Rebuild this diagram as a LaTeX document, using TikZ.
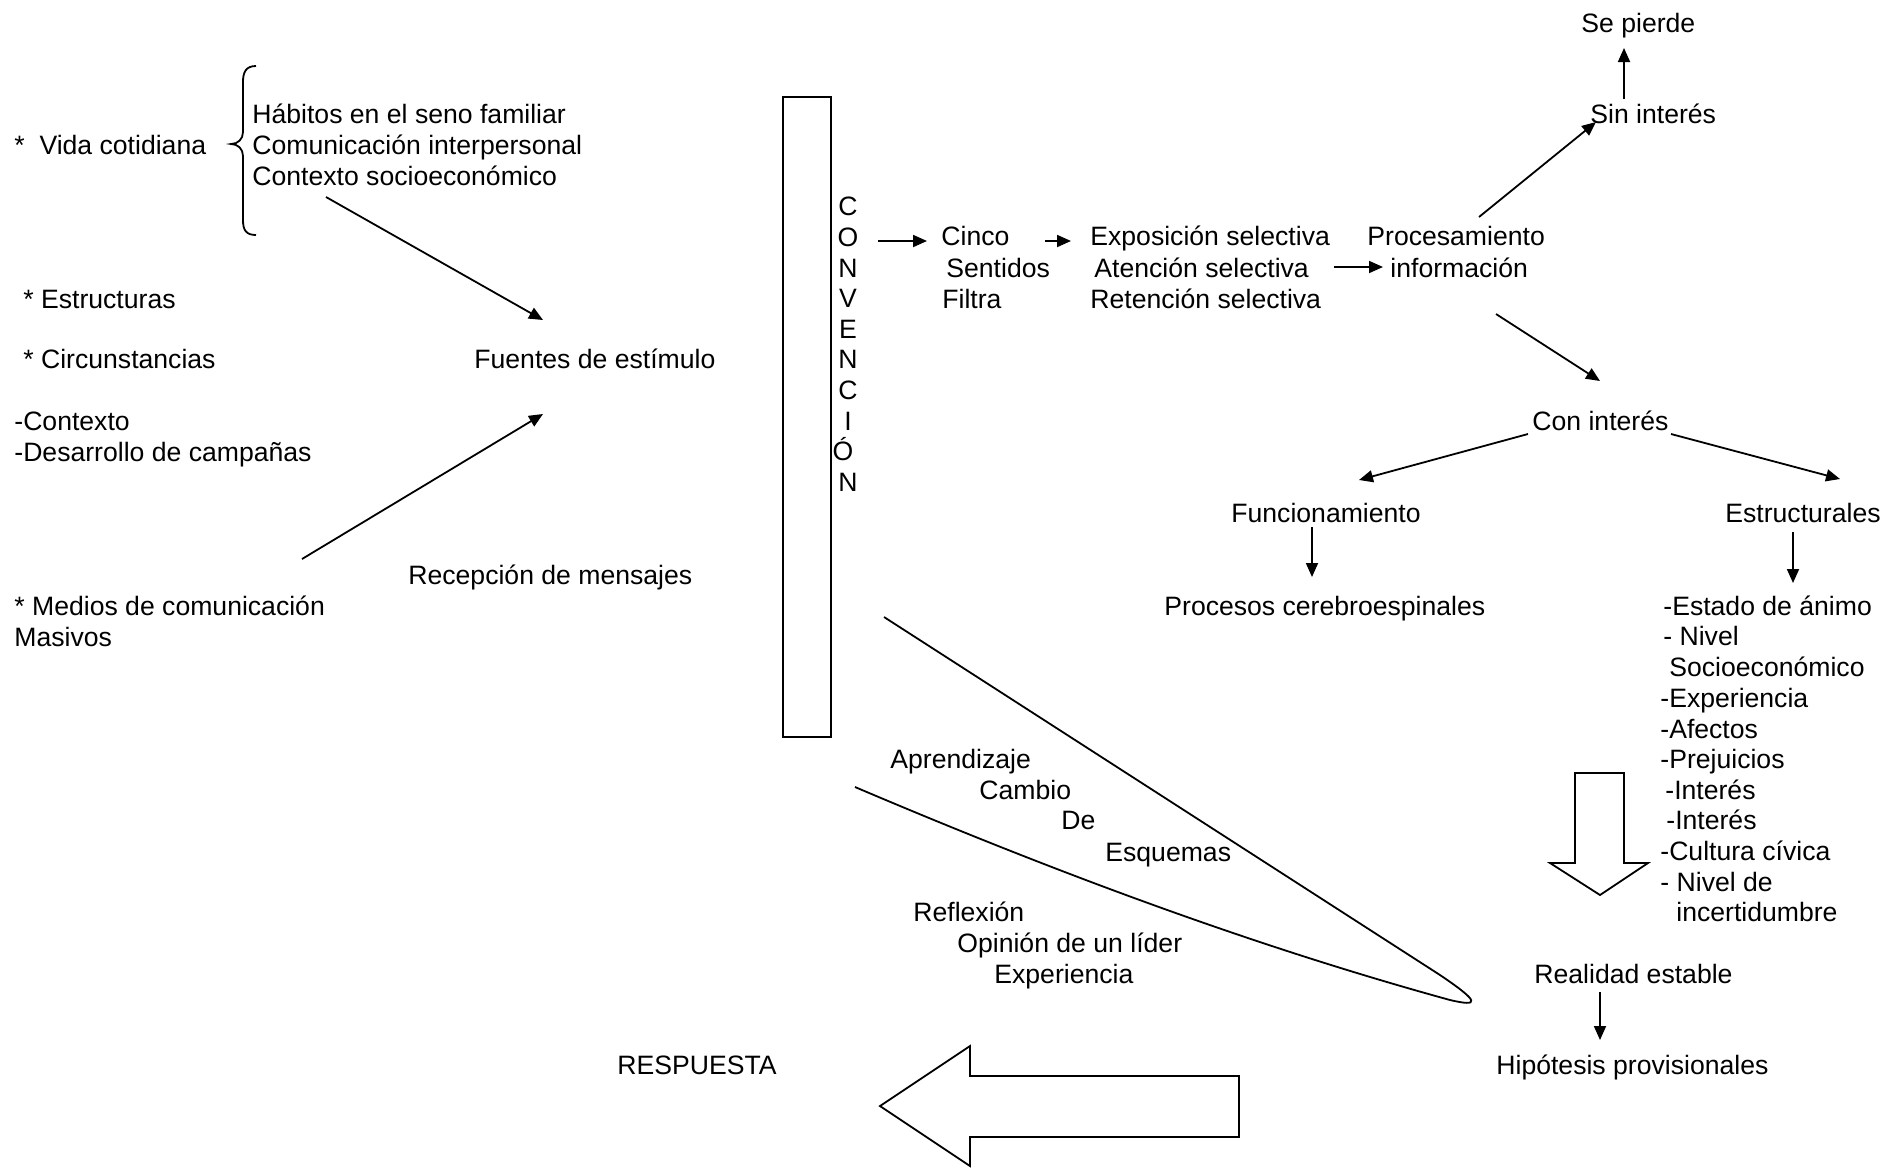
\documentclass[tikz,border=0pt]{standalone}
\usepackage{fontspec}
\setmainfont{Liberation Sans}
\usetikzlibrary{arrows.meta}
\begin{document}
\begin{tikzpicture}[x=0.5pt,y=-0.5pt,
  txt/.style={inner sep=0pt, anchor=mid west, yshift=-2.4pt, font=\fontsize{13.3pt}{15.4pt}\selectfont},
  letter/.style={inner sep=0pt, anchor=mid, yshift=-2.4pt, font=\fontsize{13.3pt}{15.4pt}\selectfont},
  conn/.style={line width=0.9pt, -{Triangle[length=7pt,width=6pt]}},
  plain/.style={line width=0.9pt},
  block/.style={line width=0.9pt, draw=black, fill=white, line join=miter}]
\useasboundingbox (0,0) rectangle (1892,1169);
% left column
\node[txt] (vida) at (14,144) {*\ \ Vida cotidiana};
\node[txt] (hab) at (252,113) {Hábitos en el seno familiar};
\node[txt] (com) at (252,144) {Comunicación interpersonal};
\node[txt] (ctx) at (252,175) {Contexto socioeconómico};
\node[txt] (estr) at (23,298) {* Estructuras};
\node[txt] (circ) at (23,358) {* Circunstancias};
\node[txt] (fuen) at (474,358) {Fuentes de estímulo};
\node[txt] (cont) at (14,420) {-Contexto};
\node[txt] (desa) at (14,451) {-Desarrollo de campañas};
\node[txt] (rece) at (408,574) {Recepción de mensajes};
\node[txt] (medi) at (14,605) {* Medios de comunicación};
\node[txt] (masi) at (14,636) {Masivos};
% brace
\draw[plain] (256,66) .. controls (246,66) and (243,72) .. (243,82) -- (243,132)
  .. controls (243,139) and (238,144) .. (231,144)
  .. controls (238,144) and (243,149) .. (243,156) -- (243,220)
  .. controls (243,230) and (246,235) .. (256,235);
% rectangle
\draw[plain] (783,97) rectangle (831,737);
\node[letter] (l1) at (848,205) {C};
\node[letter] (l2) at (848,236) {O};
\node[letter] (l3) at (848,267) {N};
\node[letter] (l4) at (848,297) {V};
\node[letter] (l5) at (848,328) {E};
\node[letter] (l6) at (848,358) {N};
\node[letter] (l7) at (848,389) {C};
\node[letter] (l8) at (848,420) {I};
\node[letter] (l9) at (843,450) {Ó};
\node[letter] (l10) at (848,481) {N};
% middle
\node[txt] (cinco) at (941,235) {Cinco};
\node[txt] (sent) at (946,267) {Sentidos};
\node[txt] (filt) at (942,298) {Filtra};
\node[txt] (expo) at (1090,235) {Exposición selectiva};
\node[txt] (aten) at (1094,267) {Atención selectiva};
\node[txt] (rete) at (1090,298) {Retención selectiva};
\node[txt] (proc) at (1367,235) {Procesamiento};
\node[txt] (info) at (1390,267) {información};
\node[txt] (sin) at (1590,113) {Sin interés};
\node[txt] (pier) at (1581,22) {Se pierde};
\node[txt] (con) at (1532,420) {Con interés};
\node[txt] (func) at (1231,512) {Funcionamiento};
\node[txt] (cere) at (1164,605) {Procesos cerebroespinales};
\node[txt] (estc) at (1725,512) {Estructurales};
% list
\node[txt] (i1) at (1663,605) {-Estado de ánimo};
\node[txt] (i2) at (1663,635) {- Nivel};
\node[txt] (i3) at (1669,666) {Socioeconómico};
\node[txt] (i4) at (1660,697) {-Experiencia};
\node[txt] (i5) at (1660,728) {-Afectos};
\node[txt] (i6) at (1660,758) {-Prejuicios};
\node[txt] (i7) at (1665,789) {-Interés};
\node[txt] (i8) at (1666,819) {-Interés};
\node[txt] (i9) at (1660,850) {-Cultura cívica};
\node[txt] (i10) at (1660,881) {- Nivel de};
\node[txt] (i11) at (1676,911) {incertidumbre};
% funnel texts
\node[txt] (apre) at (890,758) {Aprendizaje};
\node[txt] (camb) at (979,789) {Cambio};
\node[txt] (de) at (1061,819) {De};
\node[txt] (esq) at (1105,851) {Esquemas};
\node[txt] (refl) at (913,911) {Reflexión};
\node[txt] (opin) at (957,942) {Opinión de un líder};
\node[txt] (expe) at (994,973) {Experiencia};
\node[txt] (real) at (1534,973) {Realidad estable};
\node[txt] (hipo) at (1496,1064) {Hipótesis provisionales};
\node[txt] (resp) at (617,1064) {RESPUESTA};
% coordinates for connectors
\coordinate (a1s) at (326,197); \coordinate (a1e) at (543,320);
\coordinate (a2s) at (302,559); \coordinate (a2e) at (543,414);
\coordinate (a3s) at (878,241); \coordinate (a3e) at (927,241);
\coordinate (a4s) at (1045,241); \coordinate (a4e) at (1071,241);
\coordinate (a5s) at (1334,267); \coordinate (a5e) at (1383,267);
\coordinate (a6s) at (1479,217); \coordinate (a6e) at (1596,122);
\coordinate (a7s) at (1624,99); \coordinate (a7e) at (1624,48);
\coordinate (a8s) at (1496,314); \coordinate (a8e) at (1600,381);
\coordinate (a9s) at (1528,434); \coordinate (a9e) at (1359,480);
\coordinate (a10s) at (1671,434); \coordinate (a10e) at (1840,479);
\coordinate (a11s) at (1312,527); \coordinate (a11e) at (1312,577);
\coordinate (a12s) at (1793,532); \coordinate (a12e) at (1793,583);
\coordinate (a13s) at (1600,992); \coordinate (a13e) at (1600,1040);
\foreach \i in {1,...,13} {\draw[conn] (a\i s) -- (a\i e);}
% funnel
\draw[plain] (884,617) -- (1440,975) .. controls (1480,1002) and (1480,1007) .. (1450,1000)
  .. controls (1250,945) and (1050,870) .. (855,787);
% block arrows
\draw[block] (1575,773) -- (1624,773) -- (1624,863) -- (1648,863) -- (1600,895)
  -- (1550,863) -- (1575,863) -- cycle;
\draw[block] (880,1106) -- (970,1046) -- (970,1076) -- (1239,1076) -- (1239,1137)
  -- (970,1137) -- (970,1166) -- cycle;
\end{tikzpicture}
\end{document}
